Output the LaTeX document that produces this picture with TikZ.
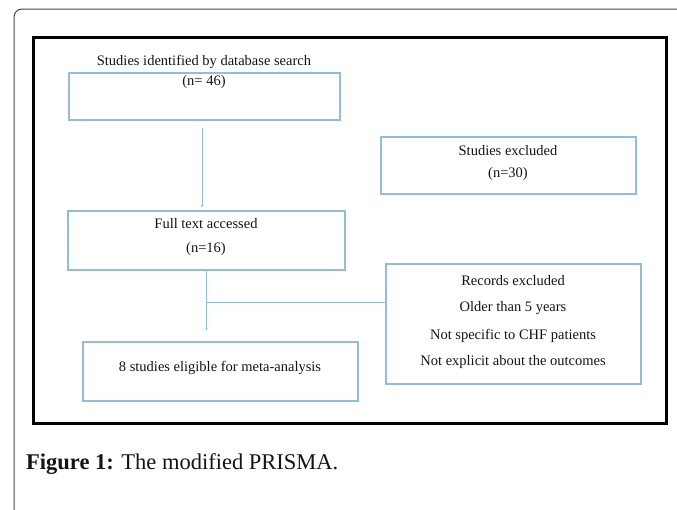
\documentclass[tikz,border=0pt]{standalone}
\usepackage{fontspec}
\setmainfont{Liberation Serif}
\usetikzlibrary{arrows.meta,calc}
\definecolor{boxblue}{RGB}{150,188,210}
\definecolor{txtgray}{RGB}{20,20,20}
\definecolor{framegray}{RGB}{70,70,70}
\tikzset{
  flowbox/.style={draw=boxblue, line width=1.1pt, minimum width=#1, inner sep=0pt},
  txt/.style={text=txtgray, font=\fontsize{14.5}{17}\selectfont, inner sep=0pt, anchor=center},
  conn/.style={draw=boxblue, line width=0.9pt},
  tip/.style={-{Stealth[length=3pt,width=2.4pt]}}
}
\begin{document}
\begin{tikzpicture}[x=1pt,y=-1pt]
\useasboundingbox (0,0) rectangle (677,509);
% outer frame
\draw[framegray, line width=1pt, rounded corners=8pt] (678,9) -- (14,9) -- (14,510);
% inner frame
\draw[black, line width=3pt] (33,37) rectangle (666,423);
% boxes
\node[flowbox=271pt, minimum height=47pt] (b1) at (204.5,96.5) {};
\node[flowbox=277pt, minimum height=59pt] (b2) at (206.5,240.5) {};
\node[flowbox=255pt, minimum height=57pt] (exc) at (508.5,165.5) {};
\node[flowbox=255pt, minimum height=120pt] (rec) at (513.5,324) {};
\node[flowbox=275pt, minimum height=59pt] (fin) at (220.5,371.5) {};
% texts
\node[txt] (t1) at (204,62) {Studies identified by database search};
\node[txt] (t1n) at (204,82) {(n= 46)};
\node[txt] (t2) at (206,224) {Full text accessed};
\node[txt] (t2n) at (206,249) {(n=16)};
\node[txt] (te) at (508,151) {Studies excluded};
\node[txt] (ten) at (508,174) {(n=30)};
\node[txt] (r1) at (513,281) {Records excluded};
\node[txt] (r2) at (513,308) {Older than 5 years};
\node[txt] (r3) at (513,336) {Not specific to CHF patients};
\node[txt] (r4) at (513,362) {Not explicit about the outcomes};
\node[txt] (tf) at (220,368) {8 studies eligible for meta-analysis};
% connectors
\draw[conn, tip, shorten <=7pt, shorten >=3pt] ([xshift=-2.5pt]b1.south) -- ([xshift=-4.5pt]b2.north);
\draw[conn, tip, shorten >=11pt] (b2.south) -- (b2.south |- fin.north);
\coordinate (j) at ($(b2.south)+(0,32)$);
\draw[conn] (j) -- (j -| rec.west);
% caption
\node[anchor=base west, inner sep=0pt, text=txtgray, font=\fontsize{22.5}{26}\selectfont] (cap) at (26,469) {\textbf{Figure 1:} The modified PRISMA.};
\end{tikzpicture}
\end{document}
